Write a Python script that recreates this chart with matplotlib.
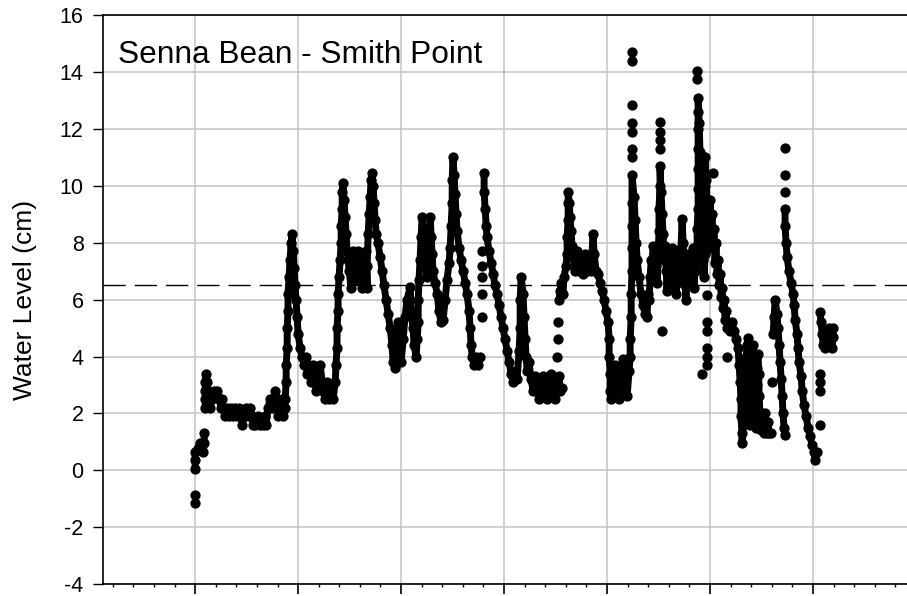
import numpy as np
import matplotlib.pyplot as plt
from matplotlib.ticker import MultipleLocator

plt.rcParams['font.family'] = ['Liberation Sans', 'DejaVu Sans']
plt.rcParams['axes.unicode_minus'] = False

# water level record, days from first tick mark, level in cm
# continuous runs of readings
seg_a_day = [0.00, 0.00, 0.00, 0.24, 0.39, 0.44, 0.44]
seg_a_lvl = [0.05, 0.35, 0.65, 0.95, 0.65, 0.95, 1.30]

seg_b_day = [0.49, 0.49, 0.49, 0.49, 0.53, 0.58, 0.63, 0.68, 0.73, 0.83, 0.92, 1.02, 1.07, 1.17, 1.26, 1.31,
             1.36, 1.46, 1.55, 1.65, 1.75, 1.84, 1.94, 2.04, 2.14, 2.23, 2.28, 2.38, 2.48, 2.57, 2.67, 2.77,
             2.82, 2.91, 3.06, 3.16, 3.30, 3.40, 3.45, 3.54, 3.64, 3.74, 3.83, 3.88, 3.98, 4.03, 4.13, 4.22,
             4.27, 4.37, 4.37, 4.42, 4.42, 4.47, 4.47, 4.51, 4.51, 4.56, 4.61, 4.66, 4.71, 4.76, 4.81, 4.85,
             4.90, 4.95, 5.00, 5.10, 5.19, 5.29, 5.39, 5.44, 5.53, 5.63, 5.73, 5.83, 5.87, 5.97, 6.07, 6.17,
             6.21, 6.31, 6.41, 6.50, 6.60, 6.70, 6.80, 6.84, 6.89, 6.89, 6.94, 6.94, 6.99, 7.04, 7.09, 7.09,
             7.14, 7.14, 7.18, 7.23, 7.28, 7.33, 7.38, 7.48, 7.57, 7.67, 7.77, 7.86, 7.91, 8.01, 8.11, 8.20,
             8.30, 8.35, 8.35, 8.40, 8.45, 8.50, 8.54, 8.59, 8.64, 8.69, 8.74, 8.79, 8.88, 8.98, 9.08, 9.17,
             9.27, 9.37, 9.47, 9.56, 9.61, 9.71, 9.81, 9.85, 9.95, 10.00, 10.10, 10.19, 10.29, 10.44, 10.49, 10.58,
             10.63, 10.73, 10.78, 10.83, 10.83, 10.87, 10.92, 10.97, 11.02, 11.12, 11.17, 11.26, 11.31, 11.36, 11.41, 11.46,
             11.50, 11.55, 11.65, 11.75, 11.84, 11.94, 12.04, 12.14, 12.23, 12.33, 12.38, 12.43, 12.48, 12.48, 12.52, 12.57,
             12.62, 12.67, 12.72, 12.82, 12.91, 13.01, 13.11, 13.20, 13.30, 13.35, 13.40, 13.45, 13.54, 13.64, 13.74, 13.83]
seg_b_lvl = [2.2, 2.5, 2.8, 3.1, 3.4, 3.1, 2.8, 2.5, 2.2, 2.5, 2.8, 2.6, 2.8, 2.5, 2.2, 2.5,
             2.2, 1.9, 2.2, 1.9, 2.2, 1.9, 2.2, 1.9, 2.2, 1.9, 1.6, 1.9, 2.2, 1.9, 2.2, 1.9,
             1.6, 1.6, 1.9, 1.6, 1.6, 1.9, 1.6, 2.2, 2.5, 2.2, 2.5, 2.8, 2.5, 1.9, 2.2, 2.5,
             1.9, 2.2, 2.5, 3.1, 3.7, 4.3, 5.0, 5.6, 6.2, 6.8, 7.4, 8.0, 8.3, 7.7, 7.1, 6.5,
             6.0, 5.4, 4.8, 4.3, 4.0, 3.7, 4.0, 3.4, 3.7, 3.1, 3.7, 3.4, 2.8, 3.4, 3.7, 3.1,
             2.8, 2.5, 3.1, 2.5, 3.0, 2.5, 3.1, 3.7, 4.3, 5.0, 5.6, 6.2, 6.8, 7.4, 8.0, 8.6,
             9.2, 9.8, 10.1, 9.5, 8.9, 8.3, 7.7, 7.0, 6.4, 7.7, 7.0, 6.7, 7.7, 7.0, 6.4, 7.0,
             7.7, 6.4, 7.2, 8.3, 9.0, 9.6, 10.2, 10.45, 10.0, 9.4, 8.8, 8.3, 8.0, 7.5, 7.0, 6.5,
             6.0, 5.5, 5.0, 4.4, 3.8, 3.6, 4.4, 5.2, 4.6, 3.8, 4.6, 5.4, 6.0, 6.45, 5.6, 5.0,
             4.4, 4.0, 4.6, 5.2, 6.0, 6.7, 7.4, 8.2, 8.9, 8.0, 7.3, 6.8, 7.5, 8.3, 8.9, 8.2,
             7.6, 7.0, 6.6, 6.2, 5.6, 5.2, 5.3, 6.0, 6.7, 7.3, 7.8, 8.6, 9.4, 10.2, 11.0, 10.4,
             9.7, 9.0, 8.4, 7.8, 7.4, 7.0, 6.6, 6.2, 5.6, 5.0, 4.4, 4.0, 3.7, 4.0, 3.7, 4.0]

seg_c_day = [14.03, 14.03, 14.08, 14.13, 14.17, 14.27, 14.37, 14.47, 14.56, 14.66, 14.76, 14.85, 14.95, 15.05, 15.15, 15.24,
             15.34, 15.44, 15.53, 15.63, 15.73, 15.78, 15.78, 15.83, 15.92, 15.97, 16.02, 16.07, 16.12, 16.21, 16.31, 16.41,
             16.50, 16.60, 16.70, 16.80, 16.89, 16.99, 17.09, 17.18, 17.28, 17.38, 17.48, 17.57, 17.67, 17.72, 17.82]
seg_c_lvl = [10.45, 9.8, 9.2, 8.6, 8.2, 7.7, 7.3, 6.9, 6.5, 6.2, 5.8, 5.4, 5.0, 4.6, 4.2, 3.8,
             3.4, 3.1, 3.5, 3.2, 4.2, 5.0, 6.0, 6.8, 6.2, 5.4, 4.6, 4.0, 3.5, 3.8, 3.2, 2.8,
             3.3, 2.8, 2.5, 2.9, 3.3, 2.9, 2.5, 3.1, 3.4, 2.8, 2.5, 3.0, 3.3, 2.8, 2.9]

seg_d_day = [17.67, 17.72, 17.77, 17.86, 17.91, 18.01, 18.06, 18.06, 18.11, 18.11, 18.11, 18.16, 18.20, 18.25, 18.30, 18.35,
             18.45, 18.54, 18.64, 18.74, 18.83, 18.93, 19.03, 19.13, 19.22, 19.32, 19.37, 19.47, 19.56, 19.66, 19.76, 19.85,
             19.95, 20.05, 20.10, 20.10, 20.15, 20.15, 20.19, 20.29, 20.39, 20.49, 20.58, 20.68, 20.78, 20.87, 20.97, 21.07,
             21.12, 21.12, 21.17, 21.17, 21.21, 21.21, 21.21, 21.21, 21.21, 21.31, 21.36, 21.41, 21.46, 21.55, 21.65, 21.75,
             21.84, 21.94, 21.99, 22.04, 22.09, 22.14, 22.18, 22.23, 22.28, 22.33, 22.38, 22.43, 22.48, 22.52, 22.52, 22.57,
             22.57, 22.62, 22.67, 22.72, 22.77, 22.82, 22.87, 22.91, 22.96, 23.01, 23.06, 23.11, 23.15, 23.20, 23.25, 23.30,
             23.35, 23.40, 23.45, 23.50, 23.55, 23.59, 23.64, 23.69, 23.74, 23.79, 23.83, 23.88, 23.93, 23.98, 24.03, 24.08,
             24.13, 24.18, 24.22, 24.27, 24.32, 24.37, 24.37, 24.42, 24.42, 24.42, 24.42, 24.42, 24.42, 24.42, 24.47, 24.51,
             24.56, 24.56, 24.61, 24.66, 24.71, 24.76, 24.76, 24.76, 24.76, 24.76, 24.81, 24.85, 24.90, 24.95, 25.00, 25.00,
             25.05, 25.10, 25.15, 25.19, 25.24, 25.29, 25.34, 25.39, 25.44, 25.49, 25.54, 25.58, 25.63, 25.68, 25.73, 25.78,
             25.83, 25.87, 25.97, 26.07, 26.17, 26.26, 26.36, 26.41, 26.46,
             26.50, 26.50, 26.55, 26.55, 26.60, 26.65, 26.70, 26.75, 26.80, 26.84, 26.87, 26.89, 26.92, 26.94, 26.99, 27.04,
             27.06, 27.09, 27.13, 27.16, 27.18, 27.21, 27.23, 27.26, 27.28, 27.33, 27.36, 27.38, 27.43, 27.48, 27.52, 27.57,
             27.62, 27.67, 27.72, 27.77, 27.82, 27.86, 27.96]
seg_d_lvl = [6.0, 6.3, 6.6, 6.2, 6.8, 7.2, 7.6, 8.2, 8.8, 9.4, 9.8, 9.4, 8.9, 8.4, 7.9, 7.5,
             7.0, 7.7, 7.0, 7.5, 6.9, 7.6, 7.0, 7.5, 7.0, 8.3, 7.6, 7.0, 6.9, 6.6, 6.3, 6.0,
             5.6, 5.2, 4.6, 4.0, 3.4, 2.8, 2.5, 3.1, 3.7, 3.0, 2.5, 3.4, 3.9, 3.1, 2.6, 3.5,
             4.0, 4.6, 5.4, 6.2, 7.0, 7.8, 8.6, 9.4, 10.4, 9.6, 8.8, 8.0, 7.4, 6.8, 6.2, 5.8,
             5.5, 5.4, 6.2, 6.0, 6.8, 7.4, 7.0, 7.9, 7.6, 6.8, 7.2, 6.6, 7.6, 8.4, 9.2, 10.0,
             10.7, 9.8, 9.0, 8.3, 7.4, 7.9, 7.0, 6.3, 7.2, 6.5, 7.4, 6.8, 7.8, 7.2, 6.4, 7.0,
             6.2, 6.6, 7.4, 6.8, 7.6, 7.8, 8.85, 8.0, 7.2, 6.5, 6.0, 6.8, 7.6, 6.9, 7.4, 6.6,
             7.0, 7.8, 6.4, 7.3, 7.0, 7.8, 8.5, 9.2, 9.9, 10.6, 11.3, 12.0, 12.6, 13.1, 12.2, 11.2,
             10.2, 9.2, 8.3, 7.4, 6.8, 7.6, 8.4, 9.2, 10.0, 11.0, 10.2, 9.4, 8.6, 7.8, 8.6, 9.5,
             8.6, 9.0, 7.8, 8.5, 7.3, 8.0, 6.9, 7.4, 6.5, 6.9, 6.1, 6.4, 5.7, 6.0, 5.3, 5.6,
             5.0, 5.2, 4.9, 5.2, 4.9, 4.6, 4.3, 3.7, 3.1,
             2.5, 1.9, 1.3, 0.95, 1.6, 2.4, 3.2, 4.0, 4.4, 4.65, 3.8, 3.0, 2.2, 1.6, 2.4, 3.2,
             4.0, 4.4, 3.6, 2.8, 2.0, 1.5, 2.2, 3.0, 3.6, 4.1, 3.4, 2.6, 1.9, 1.4, 2.0, 1.5,
             1.3, 2.0, 1.6, 1.3, 1.7, 1.3, 1.3]

seg_e_day = [28.06, 28.11, 28.16, 28.25, 28.30, 28.35, 28.40, 28.45, 28.50, 28.54, 28.59, 28.64]
seg_e_lvl = [4.8, 5.4, 6.0, 5.5, 5.0, 4.4, 3.8, 3.2, 2.6, 2.0, 1.5, 1.25]

seg_f_day = [28.64, 28.64, 28.69, 28.74, 28.83, 28.93, 29.03, 29.08, 29.13, 29.22, 29.27, 29.32, 29.42, 29.47, 29.56, 29.66,
             29.76, 29.85, 29.95, 30.05, 30.10, 30.19]
seg_f_lvl = [9.2, 8.6, 8.0, 7.5, 7.0, 6.6, 6.2, 5.8, 5.3, 4.8, 4.3, 3.8, 3.3, 2.8, 2.3, 1.9,
             1.5, 1.2, 0.9, 0.65, 0.35, 0.65]

seg_g_day = [30.34, 30.39, 30.44, 30.49, 30.58, 30.68, 30.78, 30.87, 30.92, 30.97, 30.97]
seg_g_lvl = [5.55, 5.2, 4.8, 4.4, 4.3, 4.7, 5.0, 4.6, 4.3, 4.7, 5.0]

# readings standing apart from the runs
lone_day = [0.00, 0.00, 13.93, 13.93, 13.93, 13.93, 13.93, 17.57, 17.62, 17.62,
            21.21, 21.21, 21.21, 21.21, 21.21, 21.21, 21.21, 22.57, 22.57, 22.57,
            22.57, 22.67, 24.37, 24.37, 25.15, 24.85, 24.85, 24.85, 24.85, 24.85,
            24.61, 24.85, 25.83, 28.01, 28.64, 28.64, 28.64, 30.34, 30.34, 30.34, 30.34]
lone_lvl = [-1.16, -0.87, 5.4, 6.2, 6.8, 7.2, 7.7, 4.0, 4.6, 5.2,
            14.7, 14.4, 12.85, 12.2, 11.9, 11.3, 11.0, 12.25, 11.9, 11.6,
            11.3, 4.9, 14.05, 13.75, 10.45, 6.15, 5.2, 4.9, 4.3, 4.0,
            3.4, 3.7, 4.0, 3.1, 11.33, 10.4, 9.8, 1.6, 3.4, 3.1, 2.8]

ref_level = 6.5
title = "Senna Bean - Smith Point"

fig = plt.figure(figsize=(9.07, 5.96), dpi=100)
ax = fig.add_axes([0.1136, 0.0201, 0.8864, 0.9542])

runs = [(seg_a_day, seg_a_lvl), (seg_b_day, seg_b_lvl), (seg_c_day, seg_c_lvl),
        (seg_d_day, seg_d_lvl), (seg_e_day, seg_e_lvl), (seg_f_day, seg_f_lvl),
        (seg_g_day, seg_g_lvl)]
for d, l in runs:
    ax.plot(d, l, '-o', color='k', lw=5.0, ms=6.4, solid_capstyle='round',
            solid_joinstyle='round', zorder=3)
ax.plot(lone_day, lone_lvl, 'o', color='k', ms=6.4, zorder=3)

ax.axhline(ref_level, color='k', lw=1.0, dashes=(16, 6.5), zorder=2)

ax.set_xlim(-4.47, 34.56)
ax.set_ylim(-4, 16)
ax.xaxis.set_major_locator(MultipleLocator(5))
ax.xaxis.set_minor_locator(MultipleLocator(1))
ax.yaxis.set_major_locator(MultipleLocator(2))
ax.set_xticklabels([])
ax.grid(True, which='major', color='#c4c4c4', lw=1.1)
ax.set_axisbelow(True)

ax.tick_params(axis='y', direction='out', length=7, width=1, labelsize=15.5, pad=7)
ax.tick_params(axis='x', which='major', direction='out', length=7, width=1.2)
ax.tick_params(axis='x', which='minor', direction='out', length=2, width=1)
for s in ['left', 'top', 'bottom']:
    ax.spines[s].set_linewidth(1.2)
ax.spines['right'].set_visible(False)

ax.text(0.019, 0.916, title, transform=ax.transAxes, fontsize=22.8,
        ha='left', va='baseline')
fig.text(0.0281, 0.4966, "Water Level (cm)", rotation=90, fontsize=19,
         ha='center', va='center')

fig.savefig('out.png', dpi=100)
